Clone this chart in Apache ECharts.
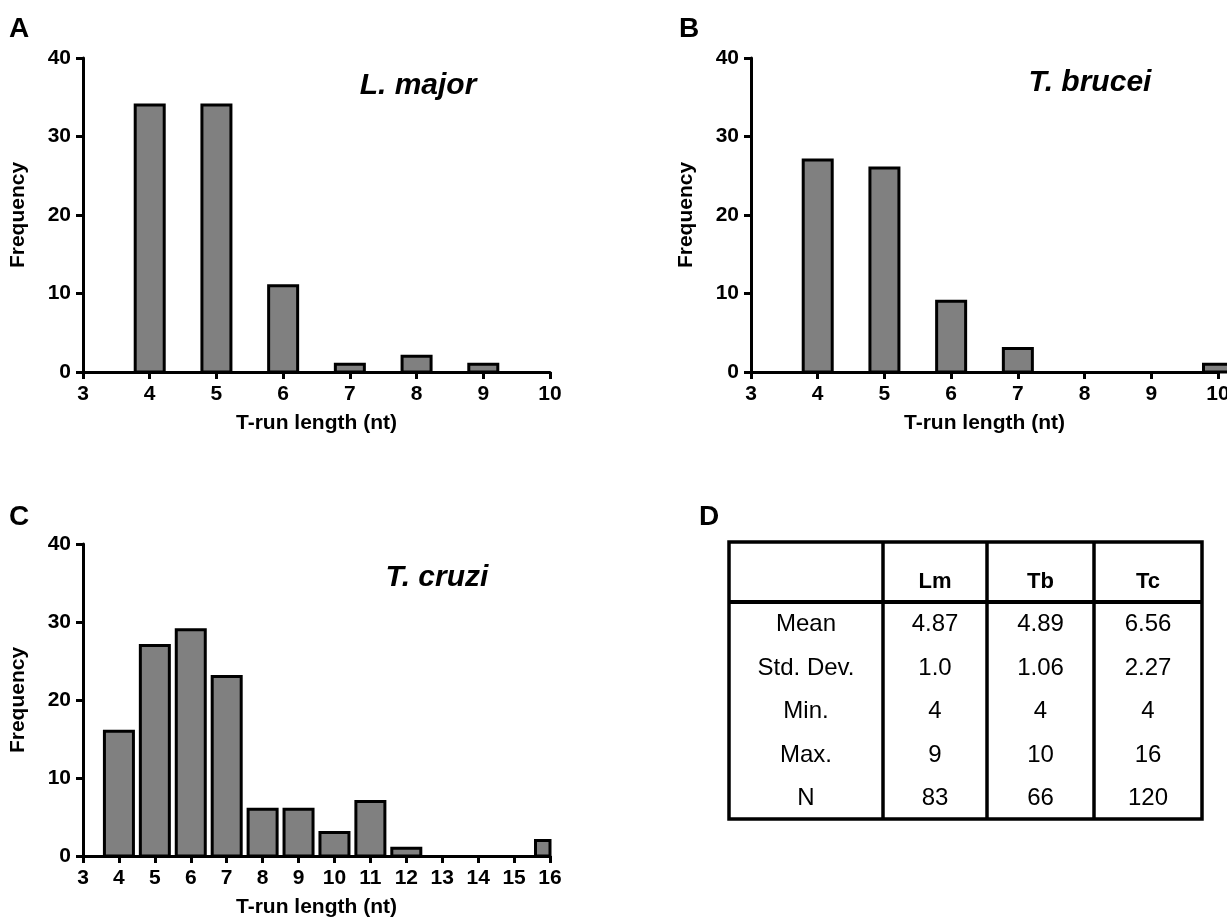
<!DOCTYPE html>
<html><head><meta charset="utf-8">
<script src="https://cdn.jsdelivr.net/npm/echarts@6/dist/echarts.min.js"></script>
<style>html,body{margin:0;padding:0;background:#fff}#c{width:1227px;height:924px}</style>
</head><body><div id="c"></div>
<script>
// ---- data ----
const lengthsA = [4, 5, 6, 7, 8, 9];
const freqA    = [34, 34, 11, 1, 2, 1];
const lengthsB = [4, 5, 6, 7, 8, 9, 10];
const freqB    = [27, 26, 9, 3, 0, 0, 1];
const lengthsC = [4, 5, 6, 7, 8, 9, 10, 11, 12, 13, 14, 15, 16];
const freqC    = [16, 27, 29, 23, 6, 6, 3, 7, 1, 0, 0, 0, 2];
const speciesNames = ['L. major', 'T. brucei', 'T. cruzi'];
const panelLetters = ['A', 'B', 'C', 'D'];
const xTitle = 'T-run length (nt)';
const yTitle = 'Frequency';
const tableHeader = ['', 'Lm', 'Tb', 'Tc'];
const tableRowNames = ['Mean', 'Std. Dev.', 'Min.', 'Max.', 'N'];
const tableLm = ['4.87', '1.0', '4', '9', '83'];
const tableTb = ['4.89', '1.06', '4', '10', '66'];
const tableTc = ['6.56', '2.27', '4', '16', '120'];

// ---- build ----
const FONT = '"Liberation Sans", Arial, Helvetica, sans-serif';
const chart = echarts.init(document.getElementById('c'), null, {renderer: 'canvas'});

const grids = [
  {left: 83, top: 58, width: 467, height: 314},
  {left: 751, top: 58, width: 467, height: 314},
  {left: 83, top: 544, width: 467, height: 312}
];
const xMax = [10, 10, 16];
const clipToGrid = [true, false, true];
const BAR_W = 29;

function pairs(xs, ys) { return xs.map((x, i) => [x, ys[i]]).filter(p => p[1] !== 0); }
const seriesData = [pairs(lengthsA, freqA), pairs(lengthsB, freqB), pairs(lengthsC, freqC)];

const axisLine = {show: true, onZero: false, lineStyle: {color: '#000', width: 3}};
const axisTick = {show: true, inside: false, length: 7, lineStyle: {color: '#000', width: 3}};

const xAxes = grids.map((g, i) => ({
  type: 'value', gridIndex: i, min: 3, max: xMax[i], interval: 1,
  axisLine, axisTick, splitLine: {show: false},
  axisLabel: {color: '#000', fontFamily: FONT, fontWeight: 'bold', fontSize: 21, margin: 12, showMinLabel: true, showMaxLabel: true},
  name: xTitle, nameLocation: 'middle', nameGap: 41,
  nameTextStyle: {color: '#000', fontFamily: FONT, fontWeight: 'bold', fontSize: 21}
}));
const yAxes = grids.map((g, i) => ({
  type: 'value', gridIndex: i, min: 0, max: 40, interval: 10,
  axisLine, axisTick, splitLine: {show: false},
  axisLabel: {color: '#000', fontFamily: FONT, fontWeight: 'bold', fontSize: 21, margin: 12},
  name: yTitle, nameLocation: 'middle', nameGap: 54, nameRotate: 90,
  nameTextStyle: {color: '#000', fontFamily: FONT, fontWeight: 'bold', fontSize: 21}
}));
const series = seriesData.map((d, i) => ({
  type: 'custom', xAxisIndex: i, yAxisIndex: i, data: d, z: 3,
  clip: false,
  encode: {x: 0, y: 1},
  renderItem: function (params, api) {
    const x = api.value(0), y = api.value(1);
    const base = api.coord([x, 0]);
    const top = api.coord([x, y]);
    let rect = {x: base[0] - BAR_W / 2, y: top[1], width: BAR_W, height: base[1] - top[1]};
    if (clipToGrid[i]) {
      const cs = params.coordSys;
      rect = echarts.graphic.clipRectByRect(rect, {x: cs.x, y: cs.y, width: cs.width, height: cs.height});
      if (!rect) return null;
    }
    return {type: 'rect', shape: rect, style: {fill: '#808080', stroke: '#000', lineWidth: 3}};
  },
  emphasis: {disabled: true}, animation: false
}));

const graphic = [];
// panel letters
const letterPos = [[9, 15], [679, 15], [9, 503], [699, 503]];
panelLetters.forEach((t, i) => graphic.push({type: 'text', left: letterPos[i][0], top: letterPos[i][1],
  style: {text: t, fill: '#000', font: 'bold 28px ' + FONT}}));
// species titles
const specPos = [[418, 86], [1090, 83], [437, 578]];
speciesNames.forEach((t, i) => graphic.push({type: 'text', x: specPos[i][0], y: specPos[i][1],
  style: {text: t, fill: '#000', font: 'italic bold 30px ' + FONT, align: 'center', verticalAlign: 'middle'}}));

// table D
const tL = 729, tR = 1202, tT = 542, tH = 602, tB = 819;
const colX = [tL, 883, 987, 1094, tR];
const rowH = (tB - tH) / tableRowNames.length;
graphic.push({type: 'rect', shape: {x: tL, y: tT, width: tR - tL, height: tB - tT},
  style: {fill: 'none', stroke: '#000', lineWidth: 3.5}});
graphic.push({type: 'line', shape: {x1: tL, y1: tH, x2: tR, y2: tH}, style: {stroke: '#000', lineWidth: 4}});
for (let c = 1; c < 4; c++) graphic.push({type: 'line', shape: {x1: colX[c], y1: tT, x2: colX[c], y2: tB},
  style: {stroke: '#000', lineWidth: 3.5}});
const colCenter = c => (colX[c] + colX[c + 1]) / 2;
tableHeader.forEach((t, c) => graphic.push({type: 'text', x: colCenter(c), y: 582,
  style: {text: t, fill: '#000', font: 'bold 22px ' + FONT, align: 'center', verticalAlign: 'middle'}}));
const tableCols = [tableRowNames, tableLm, tableTb, tableTc];
tableCols.forEach((col, c) => col.forEach((t, r) => graphic.push({type: 'text', x: colCenter(c), y: tH + rowH * (r + 0.5) + 1,
  style: {text: t, fill: '#000', font: '24px ' + FONT, align: 'center', verticalAlign: 'middle'}})));

chart.setOption({
  animation: false,
  backgroundColor: '#fff',
  grid: grids.map(g => Object.assign({containLabel: false, outerBoundsMode: 'none'}, g)),
  xAxis: xAxes, yAxis: yAxes, series, graphic
});
</script></body></html>
